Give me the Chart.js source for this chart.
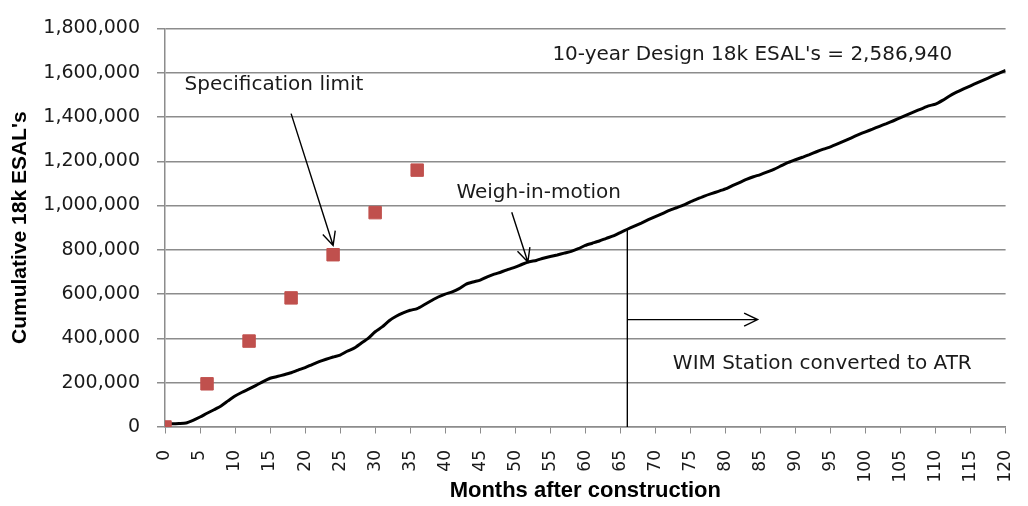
<!DOCTYPE html>
<html>
<head>
<meta charset="utf-8">
<script src="https://cdn.jsdelivr.net/npm/chart.js@4"></script>
<style>
  html, body { margin: 0; padding: 0; background: #fff; }
  #wrap { width: 1028px; height: 506px; }
</style>
</head>
<body>
<div id="wrap"><canvas id="esalChart" width="1028" height="506"></canvas></div>
<script>
// cumulative ESALs measured by WIM, one value per month (0..120)
const wimMonths = Array.from({ length: 121 }, (_, i) => i);
const wimEsals = [
  15000, 15000, 16000, 18000, 30000, 45000, 62000, 78000, 95000, 118000,
  140000, 157000, 172000, 188000, 205000, 220000, 228000, 236000, 245000, 257000,
  268000, 282000, 295000, 306000, 316000, 325000, 342000, 356000, 378000, 400000,
  430000, 452000, 480000, 500000, 515000, 527000, 535000, 552000, 570000, 587000,
  600000, 610000, 625000, 645000, 655000, 663000, 678000, 690000, 700000, 712000,
  722000, 735000, 746000, 752000, 762000, 770000, 777000, 785000, 793000, 805000,
  820000, 830000, 840000, 852000, 863000, 878000, 893000, 907000, 921000, 936000,
  950000, 964000, 978000, 990000, 1002000, 1017000, 1030000, 1043000, 1054000, 1064000,
  1075000, 1090000, 1104000, 1118000, 1130000, 1140000, 1152000, 1165000, 1180000, 1195000,
  1207000, 1218000, 1230000, 1243000, 1255000, 1265000, 1278000, 1292000, 1306000, 1320000,
  1333000, 1345000, 1358000, 1370000, 1383000, 1397000, 1411000, 1424000, 1437000, 1450000,
  1458000, 1475000, 1495000, 1512000, 1527000, 1541000, 1555000, 1569000, 1583000, 1597000,
  1610000
];

// specification limit points
const specMonths = [0, 6, 12, 18, 24, 30, 36];
const specEsals = [0, 195000, 388000, 583000, 778000, 968000, 1160000];

const conversionMonth = 66;
const designText = "10-year Design 18k ESAL's = 2,586,940";

const FONT = '"DejaVu Sans", sans-serif';
const TITLE_FONT = '"Liberation Sans", Arial, sans-serif';

// notes and arrows drawn in data coordinates
const notesPlugin = {
  id: 'notes',
  afterDatasetsDraw(chart) {
    const { ctx, scales: { x, y } } = chart;
    const px = v => x.getPixelForValue(v);
    const py = v => y.getPixelForValue(v);

    function arrow(x1, y1, x2, y2) {
      const a = Math.atan2(y2 - y1, x2 - x1);
      const h = 15, w = 0.45;
      ctx.beginPath();
      ctx.moveTo(x1, y1);
      ctx.lineTo(x2, y2);
      ctx.moveTo(x2 - h * Math.cos(a - w), y2 - h * Math.sin(a - w));
      ctx.lineTo(x2, y2);
      ctx.lineTo(x2 - h * Math.cos(a + w), y2 - h * Math.sin(a + w));
      ctx.stroke();
    }

    ctx.save();
    ctx.strokeStyle = '#000';
    ctx.lineWidth = 1.4;
    ctx.fillStyle = '#1a1a1a';
    ctx.font = '20px ' + FONT;
    ctx.textBaseline = 'middle';
    ctx.textAlign = 'left';

    ctx.fillText(designText, px(55.3), py(1680000));
    ctx.fillText('Specification limit', px(2.8), py(1545000));
    ctx.fillText('Weigh-in-motion', px(41.6), py(1058000));
    ctx.fillText('WIM Station converted to ATR', px(72.5), py(285000));

    arrow(px(18), py(1415000), px(24), py(820000));
    arrow(px(49.5), py(970000), px(51.8), py(745000));

    // conversion marker
    ctx.beginPath();
    ctx.moveTo(px(conversionMonth), py(0));
    ctx.lineTo(px(conversionMonth), py(893000));
    ctx.stroke();
    arrow(px(conversionMonth), py(485000), px(84.6), py(485000));
    ctx.restore();
  }
};

new Chart(document.getElementById('esalChart').getContext('2d'), {
  type: 'line',
  data: {
    datasets: [
      {
        label: 'Specification limit',
        type: 'scatter',
        data: specMonths.map((m, i) => ({ x: m, y: specEsals[i] })),
        backgroundColor: '#C0504D',
        borderColor: '#C0504D',
        pointStyle: 'rect',
        pointRadius: 8.8,
        pointHoverRadius: 8.8,
        showLine: false,
        order: 0
      },
      {
        label: 'Weigh-in-motion',
        data: wimMonths.map((m, i) => ({ x: m, y: wimEsals[i] })),
        borderColor: '#000',
        borderWidth: 3,
        pointRadius: 0,
        tension: 0.2,
        fill: false,
        order: 1
      }
    ]
  },
  options: {
    responsive: false,
    animation: false,
    events: [],
    layout: { padding: { top: 10, right: 0, left: 0, bottom: 0 } },
    plugins: {
      legend: { display: false },
      tooltip: { enabled: false }
    },
    scales: {
      x: {
        type: 'linear',
        min: 0,
        max: 120,
        ticks: {
          stepSize: 5,
          minRotation: 90,
          maxRotation: 90,
          padding: 2,
          color: '#1a1a1a',
          font: { family: FONT, size: 17 }
        },
        grid: {
          drawOnChartArea: false,
          drawTicks: true,
          tickLength: 21,
          tickBorderDash: [6, 60],
          color: '#8c8c8c'
        },
        border: { display: true, color: '#8c8c8c', width: 1.5 },
        title: {
          display: true,
          text: 'Months after construction',
          color: '#000',
          padding: { top: 0, bottom: 2 },
          font: { family: TITLE_FONT, size: 22, weight: 'bold' }
        },
        afterFit(scale) { scale.height = 79; }
      },
      y: {
        min: 0,
        max: 1800000,
        ticks: {
          stepSize: 200000,
          padding: 17,
          color: '#1a1a1a',
          font: { family: FONT, size: 19 },
          callback: v => v.toLocaleString('en-US')
        },
        grid: {
          color: '#8c8c8c',
          lineWidth: 1.5,
          tickLength: 8
        },
        border: { display: true, color: '#8c8c8c', width: 1.5 },
        title: {
          display: true,
          text: "Cumulative 18k ESAL's",
          color: '#000',
          padding: { top: 8, bottom: 0 },
          font: { family: TITLE_FONT, size: 21, weight: 'bold' }
        },
        afterFit(scale) { scale.width = 165; }
      }
    }
  },
  plugins: [notesPlugin]
});
</script>
</body>
</html>
